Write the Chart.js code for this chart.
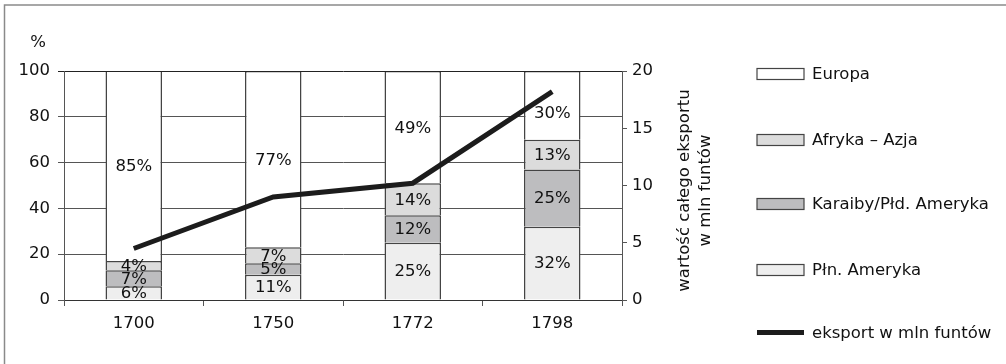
<!DOCTYPE html>
<html><head><meta charset="utf-8">
<script src="https://cdn.jsdelivr.net/npm/chart.js@4.4.1/dist/chart.umd.min.js"></script>
<style>html,body{margin:0;padding:0;background:#fff}#wrap{width:1006px;height:364px}</style>
</head><body><div id="wrap"><canvas id="c" width="1006" height="364"></canvas></div>
<script>
// ---- data ----
const years = ['1700', '1750', '1772', '1798'];
const plnAmeryka = [6, 11, 25, 32];
const karaiby = [7, 5, 12, 25];
const afrykaAzja = [4, 7, 14, 13];
const europa = [85, 77, 49, 30];
const eksport = [4.5, 9.0, 10.2, 18.2];
const leftTicks = [0, 20, 40, 60, 80, 100];
const rightTicks = [0, 5, 10, 15, 20];
const seriesNames = ['Płn. Ameryka', 'Karaiby/Płd. Ameryka', 'Afryka – Azja', 'Europa', 'eksport w mln funtów'];
const leftUnit = '%';
const rightTitle = ['wartość całego eksportu', 'w mln funtów'];

// ---- styles ----
const FONT = "'DejaVu Sans', sans-serif";
const FS = 16.5;
const TXT = '#111111';
const barFill = ['#eeeeee', '#bdbdbf', '#dcdcdc', '#ffffff'];
const barBorder = '#444444';

Chart.defaults.font.family = FONT;
Chart.defaults.font.size = FS;
Chart.defaults.color = TXT;

const barData = [plnAmeryka, karaiby, afrykaAzja, europa];
const datasets = barData.map((d, k) => ({
  type: 'bar', label: seriesNames[k], data: d,
  backgroundColor: barFill[k], borderColor: barBorder, borderWidth: 1.5,
  borderSkipped: 'start', inflateAmount: 0, yAxisID: 'y', order: 1,
  clip: {left: 10, top: -1, right: 10, bottom: 10}
}));
datasets.push({
  type: 'line', label: seriesNames[4], data: eksport, yAxisID: 'y1',
  borderColor: '#1c1c1c', backgroundColor: '#1c1c1c', borderWidth: 5,
  pointRadius: 0, tension: 0, order: 0, clip: false
});

const frame = {
  id: 'frame',
  beforeDraw(chart) {
    const ctx = chart.ctx;
    ctx.save();
    ctx.strokeStyle = '#8a8a8a'; ctx.lineWidth = 1.5;
    ctx.beginPath();
    ctx.moveTo(4.5, 364); ctx.lineTo(4.5, 5); ctx.lineTo(1006, 5);
    ctx.stroke();
    ctx.restore();
  }
};

// small vertical nudges (px) for labels of the top segment, to keep them off the line
const topLabelNudge = [1, 2, 2, 8];

const segLabels = {
  id: 'segLabels',
  afterDatasetsDraw(chart) {
    const ctx = chart.ctx, area = chart.chartArea;
    ctx.save();
    ctx.font = FS + 'px ' + FONT; ctx.fillStyle = TXT;
    ctx.textAlign = 'center'; ctx.textBaseline = 'middle';
    const n = chart.data.datasets.filter(d => d.type === 'bar').length;
    chart.data.datasets.forEach((ds, di) => {
      if (ds.type !== 'bar') return;
      const meta = chart.getDatasetMeta(di);
      meta.data.forEach((el, i) => {
        const top = Math.max(Math.min(el.y, el.base), area.top);
        const bottom = Math.min(Math.max(el.y, el.base), area.bottom);
        const nudge = (di === n - 1) ? topLabelNudge[i] : 1;
        ctx.fillText(ds.data[i] + '%', el.x, (top + bottom) / 2 + nudge);
      });
    });
    ctx.restore();
  }
};

const extras = {
  id: 'extras',
  afterDraw(chart) {
    const ctx = chart.ctx, area = chart.chartArea;
    ctx.save();
    ctx.font = FS + 'px ' + FONT; ctx.fillStyle = TXT;
    ctx.textAlign = 'center'; ctx.textBaseline = 'middle';
    ctx.fillText(leftUnit, 38, 43);
    ctx.save();
    ctx.translate(695, (area.top + area.bottom) / 2 + 5);
    ctx.rotate(-Math.PI / 2);
    ctx.fillText(rightTitle[0], 0, -10.5);
    ctx.fillText(rightTitle[1], 0, 10.5);
    ctx.restore();
    const order = [3, 2, 1, 0, 4];
    const ys = [74, 140, 204, 270, 332.5];
    const bx = 757, bw = 47, bh = 11, tx = 812;
    order.forEach((di, j) => {
      const ds = chart.data.datasets[di];
      const y = ys[j];
      if (ds.type === 'bar') {
        ctx.fillStyle = ds.backgroundColor;
        ctx.fillRect(bx, y - bh / 2, bw, bh);
        ctx.strokeStyle = barBorder; ctx.lineWidth = 1.2;
        ctx.strokeRect(bx, y - bh / 2, bw, bh);
      } else {
        ctx.strokeStyle = ds.borderColor; ctx.lineWidth = ds.borderWidth;
        ctx.beginPath(); ctx.moveTo(bx, y); ctx.lineTo(bx + bw, y); ctx.stroke();
      }
      ctx.fillStyle = TXT; ctx.textAlign = 'left'; ctx.textBaseline = 'middle';
      ctx.fillText(ds.label, tx, y + 1);
    });
    ctx.restore();
  }
};

new Chart(document.getElementById('c'), {
  type: 'bar',
  data: { labels: years, datasets },
  options: {
    responsive: false, animation: false,
    layout: { padding: { top: 71, right: 344, bottom: 0, left: 0 } },
    datasets: { bar: { categoryPercentage: 1, barPercentage: 0.405 } },
    plugins: { legend: { display: false }, tooltip: { enabled: false } },
    scales: {
      x: {
        stacked: true, offset: true,
        grid: { offset: true, drawOnChartArea: false, tickLength: 6, color: '#555' },
        border: { display: true, color: '#333' },
        ticks: { padding: 8, color: TXT },
        afterFit: s => { s.height = 64; }
      },
      y: {
        position: 'left', stacked: true, min: 0, max: 100,
        afterBuildTicks: s => { s.ticks = leftTicks.map(v => ({ value: v })); },
        afterFit: s => { s.width = 64; },
        grid: { color: c => (c.tick && c.tick.value === 100) ? '#222' : '#555', tickLength: 6 },
        border: { display: true, color: '#555' },
        ticks: { padding: 8, color: TXT }
      },
      y1: {
        position: 'right', min: 0, max: 20,
        afterBuildTicks: s => { s.ticks = rightTicks.map(v => ({ value: v })); },
        afterFit: s => { s.width = 40; },
        grid: { drawOnChartArea: false, tickLength: 5, color: '#555' },
        border: { display: true, color: '#555' },
        ticks: { padding: 5, color: TXT }
      }
    }
  },
  plugins: [frame, segLabels, extras]
});
</script>
</body></html>
